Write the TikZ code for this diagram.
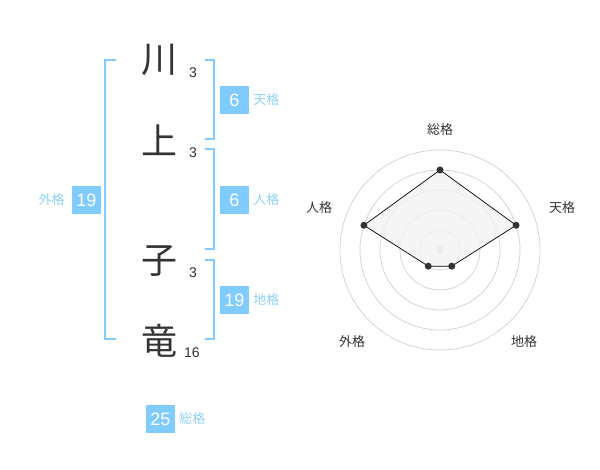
\documentclass[tikz,border=0pt]{standalone}
\usepackage{fontspec}
\setmainfont{Liberation Sans}
\newfontfamily\jp{Noto Sans CJK JP}
\usetikzlibrary{positioning}

\definecolor{celeste}{HTML}{80CCFF}
\definecolor{celesteclaro}{HTML}{8ED1F7}
\definecolor{tinta}{HTML}{333333}
\definecolor{rejilla}{HTML}{D0D0D0}
\definecolor{relleno}{HTML}{F2F2F2}

\tikzset{
    kanji/.style={font=\jp\fontsize{36}{36}\selectfont, text=tinta, inner sep=0pt},
    trazos/.style={font=\fontsize{14}{14}\selectfont, text=tinta, inner sep=0pt},
    caja/.style={fill=celeste, text=white, minimum width=29pt, minimum height=28pt, inner sep=0pt, font=\fontsize{18}{18}\selectfont},
    etiqueta/.style={font=\jp\fontsize{13}{13}\selectfont, text=celesteclaro, inner sep=0pt},
    eje/.style={font=\jp\fontsize{13}{13}\selectfont, text=tinta, inner sep=0pt},
    corchete/.style={draw=celeste, line width=2pt},
    punto/.style={circle, fill=tinta, inner sep=0pt, minimum size=7pt}
}

\begin{document}
\begin{tikzpicture}[x=1pt, y=-1pt]
    \useasboundingbox (0,0) rectangle (600,470);

    % Nombre y número de trazos
    \node[kanji] (k1) at (159,60) {川};
    \node[kanji] (k2) at (159,140) {上};
    \node[kanji] (k3) at (159,261) {子};
    \node[kanji] (k4) at (159,341) {竜};
    \node[trazos] (n1) at (193,73) {3};
    \node[trazos] (n2) at (193,153) {3};
    \node[trazos] (n3) at (193,273) {3};
    \node[trazos] (n4) at (192,353) {16};

    % Corchetes
    \draw[corchete] (116,60) -- (105,60) -- (105,339) -- (116,339);
    \draw[corchete] (205,60) -- (214,60) -- (214,139) -- (205,139);
    \draw[corchete] (205,149) -- (214,149) -- (214,249) -- (205,249);
    \draw[corchete] (205,260) -- (214,260) -- (214,339) -- (205,339);

    % Cajas con los valores
    \node[caja] (ten) at (234.5,100) {6};
    \node[caja] (jin) at (234.5,200) {6};
    \node[caja] (chi) at (234.5,300) {19};
    \node[caja] (gai) at (86.5,200) {19};
    \node[caja] (sou) at (160.5,419) {25};
    \node[etiqueta, right=4pt of ten] {天格};
    \node[etiqueta, right=4pt of jin] {人格};
    \node[etiqueta, right=4pt of chi] {地格};
    \node[etiqueta, left=7pt of gai] {外格};
    \node[etiqueta, right=4pt of sou] {総格};

    % Gráfico radar
    \node[eje] (es) at (440,130) {総格};
    \node[eje] (et) at (562,208) {天格};
    \node[eje] (ej) at (319,208) {人格};
    \node[eje] (eg) at (352,342) {外格};
    \node[eje] (ec) at (524,342) {地格};
    \begin{scope}[shift={(440,250)}, y=1pt]
        \foreach \r in {20,40,60,80,100}
            \draw[rejilla, line width=0.7pt] (0,0) circle (\r);
        \fill[rejilla] (0,0) circle (4);
        \coordinate (ps) at (90:80);
        \coordinate (pt) at (18:80);
        \coordinate (pc) at (-54:20);
        \coordinate (pg) at (-126:20);
        \coordinate (pj) at (162:80);
        \draw[fill=relleno, fill opacity=0.8, draw=black, line width=0.7pt]
            (ps) -- (pt) -- (pc) -- (pg) -- (pj) -- cycle;
        \foreach \p in {ps,pt,pc,pg,pj}
            \node[punto] at (\p) {};
    \end{scope}
\end{tikzpicture}
\end{document}
